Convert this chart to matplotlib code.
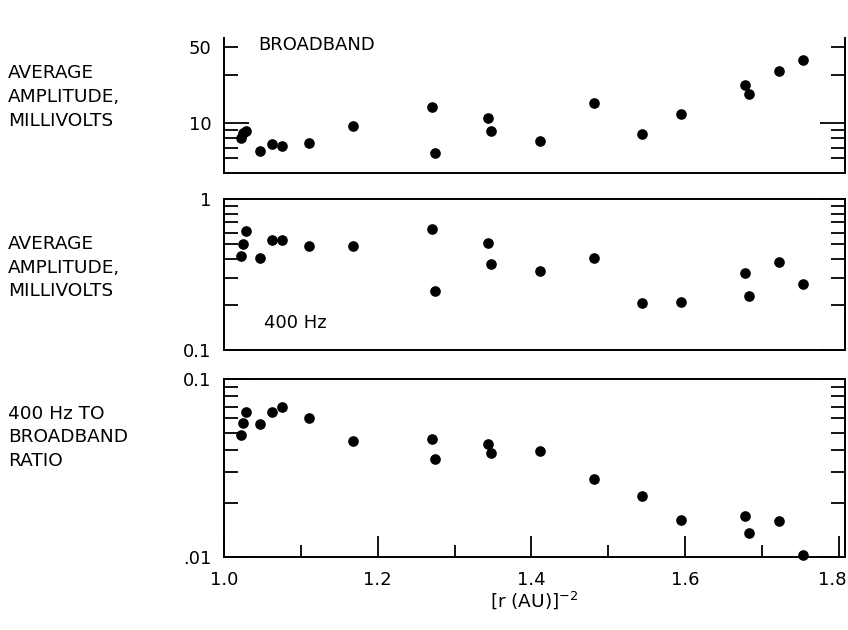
import matplotlib
matplotlib.use("Agg")
import matplotlib.pyplot as plt
from matplotlib.transforms import ScaledTranslation
from matplotlib.ticker import FixedLocator, FixedFormatter, NullFormatter

# [r (AU)]^-2 for each pass
r_inv_sq = [1.022, 1.025, 1.029, 1.047, 1.063, 1.076, 1.111, 1.168,
            1.271, 1.274, 1.343, 1.347, 1.411, 1.481, 1.544, 1.594,
            1.678, 1.683, 1.722, 1.753]

# average amplitudes, millivolts
broadband = [8.0, 8.6, 8.9, 6.7, 7.4, 7.2, 7.5, 9.6,
             12.6, 6.5, 10.7, 8.9, 7.7, 13.4, 8.5, 11.4,
             17.4, 15.1, 21.3, 25.0]
hz400 = [0.417, 0.501, 0.615, 0.406, 0.538, 0.538, 0.491, 0.486,
         0.637, 0.246, 0.514, 0.371, 0.333, 0.406, 0.204, 0.208,
         0.324, 0.228, 0.384, 0.275]

# 400 Hz / broadband
ratio = [0.0482, 0.0565, 0.0655, 0.0556, 0.0649, 0.0699, 0.0602, 0.0447,
         0.0463, 0.0357, 0.0430, 0.0383, 0.0395, 0.0274, 0.0219, 0.0161,
         0.0169, 0.0137, 0.0159, 0.0103]

x_ticks = [1.0, 1.2, 1.4, 1.6, 1.8]
x_tick_labels = ["1.0", "1.2", "1.4", "1.6", "1.8"]

plt.rcParams["font.family"] = ["DejaVu Sans"]
FS = 13.3   # row labels
PS = 13     # text inside the panels
TS = 13     # tick labels

fig = plt.figure(figsize=(8.48, 6.3), dpi=100)
L, W = 0.2642, 0.7323
ax1 = fig.add_axes([L, 0.7254, W, 0.2143])
ax2 = fig.add_axes([L, 0.4444, W, 0.2397])
ax3 = fig.add_axes([L, 0.1159, W, 0.2825])


def style(ax):
    ax.set_yscale("log")
    ax.set_xlim(1.0, 1.808)
    for s in ax.spines.values():
        s.set_linewidth(1.4)
    ax.tick_params(which="both", direction="in", left=True, right=True,
                   top=False, bottom=False, labelbottom=False,
                   width=1.3, labelsize=TS, pad=9)
    ax.tick_params(which="major", length=18)
    ax.tick_params(which="minor", length=10)


for ax in (ax1, ax2, ax3):
    style(ax)

# broadband panel
ax1.scatter(r_inv_sq, broadband, s=44, color="black", zorder=3)
ax1.set_ylim(4.85, 34.2)
ax1.spines["top"].set_visible(False)
ax1.yaxis.set_major_locator(FixedLocator([10]))
ax1.yaxis.set_major_formatter(FixedFormatter(["10"]))
ax1.yaxis.set_minor_locator(FixedLocator([6, 7, 8, 9, 20, 30]))
ax1.yaxis.set_minor_formatter(FixedFormatter(["", "", "", "", "", "50"]))
ax1.text(1.045, 0.95, "BROADBAND", transform=ax1.get_xaxis_transform(),
         fontsize=PS, va="center", ha="left")

# 400 Hz panel
ax2.scatter(r_inv_sq, hz400, s=44, color="black", zorder=3)
ax2.set_ylim(0.1, 1)
ax2.yaxis.set_major_locator(FixedLocator([0.1, 1]))
ax2.yaxis.set_major_formatter(FixedFormatter(["0.1", "1"]))
ax2.yaxis.set_minor_locator(FixedLocator([0.2, 0.3, 0.4, 0.5, 0.6, 0.7, 0.8, 0.9]))
ax2.yaxis.set_minor_formatter(NullFormatter())
ax2.text(1.052, 0.18, "400 Hz", transform=ax2.get_xaxis_transform(),
         fontsize=PS, va="center", ha="left")

# ratio panel
ax3.scatter(r_inv_sq, ratio, s=44, color="black", zorder=3, clip_on=False)
ax3.set_ylim(0.01, 0.1)
ax3.yaxis.set_major_locator(FixedLocator([0.01, 0.1]))
ax3.yaxis.set_major_formatter(FixedFormatter([".01", "0.1"]))
ax3.yaxis.set_minor_locator(FixedLocator([0.02, 0.03, 0.04, 0.05, 0.06, 0.07, 0.08, 0.09]))
ax3.yaxis.set_minor_formatter(NullFormatter())
ax3.tick_params(axis="x", which="both", bottom=True, labelbottom=True)
ax3.xaxis.set_major_locator(FixedLocator(x_ticks))
ax3.xaxis.set_major_formatter(FixedFormatter(x_tick_labels))
ax3.xaxis.set_minor_locator(FixedLocator([1.1, 1.3, 1.5, 1.7]))
ax3.tick_params(axis="x", which="major", length=15, pad=10)
ax3.tick_params(axis="x", which="minor", length=9)
# nudge the last label so it stays inside the figure
last = ax3.get_xticklabels()[-1]
last.set_transform(last.get_transform()
                   + ScaledTranslation(-7 / 100, 0, fig.dpi_scale_trans))

# row labels on the left
fig.text(0.009, 0.846, "AVERAGE\nAMPLITUDE,\nMILLIVOLTS", fontsize=FS,
         va="center", ha="left", linespacing=1.4)
fig.text(0.009, 0.575, "AVERAGE\nAMPLITUDE,\nMILLIVOLTS", fontsize=FS,
         va="center", ha="left", linespacing=1.4)
fig.text(0.009, 0.306, "400 Hz TO\nBROADBAND\nRATIO", fontsize=FS,
         va="center", ha="left", linespacing=1.4)

fig.text(L + W / 2, 0.048, r"[r (AU)]$^{-2}$", fontsize=FS, ha="center",
         va="center")

fig.savefig("out.png", dpi=100)
